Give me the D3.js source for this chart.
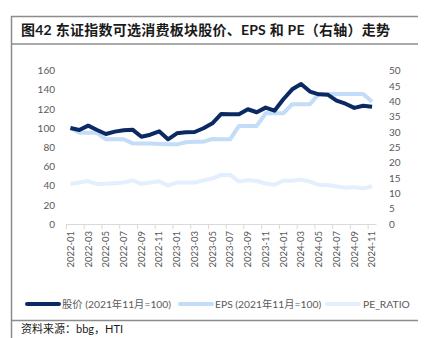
<!DOCTYPE html>
<html>
<head>
<meta charset="utf-8">
<script src="https://cdn.jsdelivr.net/npm/d3@7"></script>
<style>
  html, body { margin: 0; padding: 0; background: #fff; }
  svg { display: block; font-family: "Lato", "Noto Sans CJK SC", sans-serif; }
</style>
</head>
<body>
<script>
// monthly categories 2022-01 .. 2024-11
var months = [];
for (var yr = 2022; yr <= 2024; yr++) {
  for (var m = 1; m <= 12; m++) {
    if (yr === 2024 && m > 11) break;
    months.push(yr + "-" + (m < 10 ? "0" + m : m));
  }
}

// share price index (2021-11 = 100), left axis
var price = [100, 98, 102.5, 98, 93.8, 96.3, 97.7, 98.3, 91, 93.1, 96.6, 88.3,
  94.5, 95.6, 95.9, 99.8, 105, 114.7, 114.4, 114.4, 119.6, 116.5, 121.3, 118.1,
  130, 140.4, 146, 138, 135.2, 134.8, 128.6, 125.4, 121, 123.3, 122.3];

// EPS index (2021-11 = 100), left axis
var eps = [100, 95.2, 95, 95, 88.3, 88.3, 88.3, 84.1, 84, 84, 83.4, 83,
  83, 85.2, 85.8, 85.8, 88.6, 88.3, 88.3, 102.2, 102.2, 102.2, 115.4, 115.4,
  115.4, 124.8, 124.8, 124.8, 135.6, 135.6, 135.6, 135.6, 135.6, 135.6, 127.5];

// PE ratio, right axis
var pe = [13.0, 13.5, 14.0, 13.0, 13.1, 13.3, 13.5, 14.2, 13.1, 13.5, 13.9, 12.5,
  13.5, 13.5, 13.5, 14.2, 14.8, 16.0, 16.0, 13.8, 14.3, 14.0, 13.2, 12.8,
  14.1, 14.1, 14.5, 13.8, 12.8, 12.7, 12.2, 11.8, 12.0, 11.6, 12.3];

var leftTicks = [0, 20, 40, 60, 80, 100, 120, 140, 160];
var rightTicks = [0, 5, 10, 15, 20, 25, 30, 35, 40, 45, 50];

var seriesNames = ["股价 (2021年11月=100)", "EPS (2021年11月=100)", "PE_RATIO"];
var title = "图42 东证指数可选消费板块股价、EPS 和 PE（右轴）走势";
var source = "资料来源：bbg，HTI";

var w = 429, h = 338;
var grey = "#595959";
var frame = "#8c8c8c";

var svg = d3.select("body").append("svg")
    .attr("width", w)
    .attr("height", h);

// report frame
svg.append("line").attr("x1", 11).attr("x2", 418).attr("y1", 16.5).attr("y2", 16.5)
   .attr("stroke", frame).attr("stroke-width", 1.5);
svg.append("line").attr("x1", 11).attr("x2", 418).attr("y1", 44).attr("y2", 44)
   .attr("stroke", frame).attr("stroke-width", 1.5);
svg.append("line").attr("x1", 11).attr("x2", 418).attr("y1", 320.5).attr("y2", 320.5)
   .attr("stroke", frame).attr("stroke-width", 1.5);
svg.append("line").attr("x1", 11.5).attr("x2", 11.5).attr("y1", 16).attr("y2", h)
   .attr("stroke", frame).attr("stroke-width", 1.5);

svg.append("text")
   .attr("x", 21).attr("y", 35)
   .attr("font-size", 14).attr("font-weight", "bold").attr("fill", "#1a1a1a")
   .attr("letter-spacing", 0.25)
   .text(title);

svg.append("text")
   .attr("x", 21).attr("y", 333)
   .attr("font-size", 11).attr("fill", "#1a1a1a")
   .text(source);

// scales
var x = d3.scaleBand().domain(months).range([66, 376.5]).padding(0);
var cx = function(d) { return x(d) + x.bandwidth() / 2; };
var yL = d3.scaleLinear().domain([0, 160]).range([224, 70.5]);
var yR = d3.scaleLinear().domain([0, 50]).range([224, 70.5]);

// left axis
var gl = svg.append("g").attr("transform", "translate(59,0)")
    .call(d3.axisLeft(yL).tickValues(leftTicks).tickSize(0).tickPadding(4));
gl.select(".domain").remove();
gl.selectAll("text").attr("font-size", 10).attr("fill", grey).attr("font-family", "Lato");

// right axis
var gr = svg.append("g").attr("transform", "translate(386,0)")
    .call(d3.axisRight(yR).tickValues(rightTicks).tickSize(0).tickPadding(3));
gr.select(".domain").remove();
gr.selectAll("text").attr("font-size", 10).attr("fill", grey).attr("font-family", "Lato");

// category axis: line, a tick every two months, rotated labels
svg.append("line").attr("x1", 66).attr("x2", 376.5).attr("y1", 224.5).attr("y2", 224.5)
   .attr("stroke", "#d9d9d9");
var every2 = months.filter(function(d, i) { return i % 2 === 0; });
svg.selectAll("line.xt").data(every2).enter().append("line")
   .attr("class", "xt")
   .attr("x1", function(d) { return x(d) + 0.5; })
   .attr("x2", function(d) { return x(d) + 0.5; })
   .attr("y1", 224).attr("y2", 229)
   .attr("stroke", "#d9d9d9");

var gx = svg.append("g").attr("transform", "translate(0,224)")
    .call(d3.axisBottom(x).tickValues(every2).tickSize(0));
gx.select(".domain").remove();
gx.selectAll("text")
  .attr("font-size", 9.5).attr("fill", grey).attr("font-family", "Lato")
  .attr("transform", "rotate(-90)")
  .attr("text-anchor", "end")
  .attr("x", -7).attr("y", 0).attr("dy", "0.35em");

// series lines
var lineL = d3.line().x(function(d, i) { return cx(months[i]); }).y(function(d) { return yL(d); });
var lineR = d3.line().x(function(d, i) { return cx(months[i]); }).y(function(d) { return yR(d); });

var colors = ["#0b2a64", "#c3dcf7", "#e3effc"];

svg.append("path").datum(pe).attr("d", lineR)
   .attr("fill", "none").attr("stroke", colors[2]).attr("stroke-width", 4)
   .attr("stroke-linejoin", "round");
svg.append("path").datum(eps).attr("d", lineL)
   .attr("fill", "none").attr("stroke", colors[1]).attr("stroke-width", 4)
   .attr("stroke-linejoin", "round");
svg.append("path").datum(price).attr("d", lineL)
   .attr("fill", "none").attr("stroke", colors[0]).attr("stroke-width", 4)
   .attr("stroke-linejoin", "round");

// legend
var legendX = [27, 180, 327];
var lg = svg.selectAll("g.legend").data(seriesNames).enter().append("g")
    .attr("class", "legend")
    .attr("transform", function(d, i) { return "translate(" + legendX[i] + ",304)"; });
lg.append("line").attr("x1", 0).attr("x2", 32).attr("y1", 0).attr("y2", 0)
  .attr("stroke", function(d, i) { return colors[i]; })
  .attr("stroke-width", 4).attr("stroke-linecap", "round");
lg.append("text").attr("x", function(d, i) { return i === 2 ? 36 : 35; }).attr("y", 0).attr("dy", "0.35em")
  .attr("font-size", 10.3).attr("fill", grey)
  .text(function(d) { return d; });
</script>
</body>
</html>
